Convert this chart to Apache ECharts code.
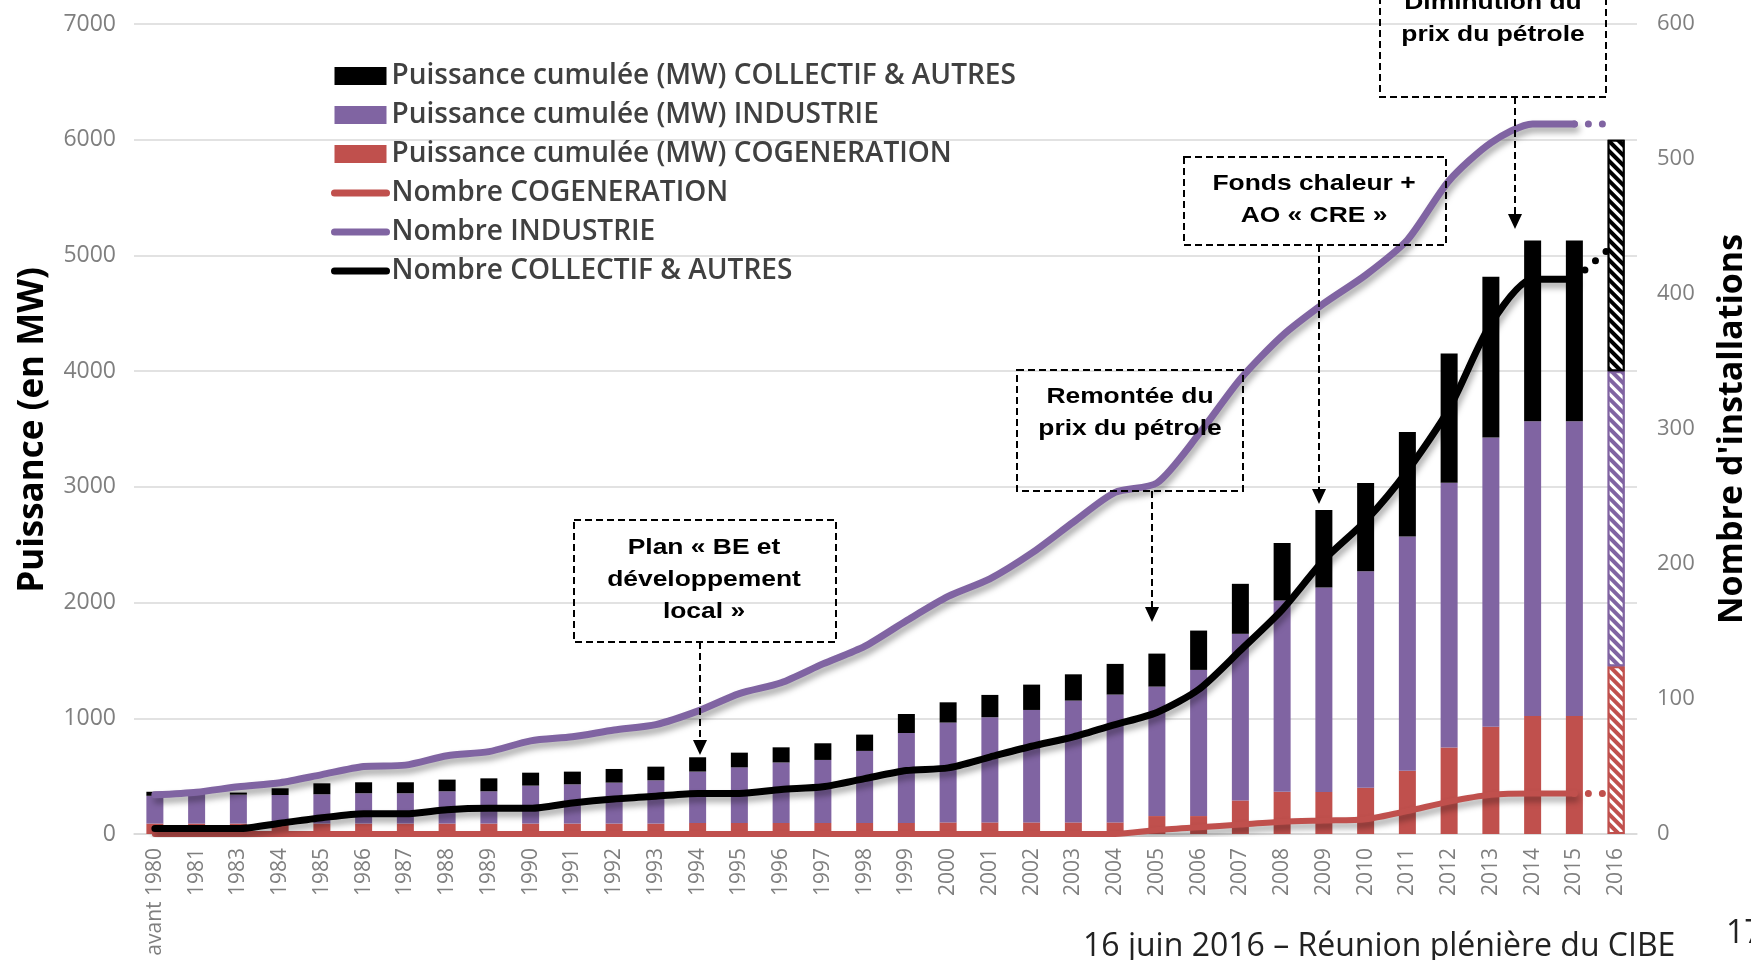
<!DOCTYPE html>
<html>
<head>
<meta charset="utf-8">
<script src="https://cdn.jsdelivr.net/npm/echarts@6/dist/echarts.min.js"></script>
<style>
html,body{margin:0;padding:0;background:#fff;}
#chart{width:1751px;height:960px;}
</style>
</head>
<body>
<div id="chart"></div>
<script>
// ---- Data ----
var categories = ['avant 1980','1981','1983','1984','1985','1986','1987','1988','1989','1990','1991','1992','1993','1994','1995','1996','1997','1998','1999','2000','2001','2002','2003','2004','2005','2006','2007','2008','2009','2010','2011','2012','2013','2014','2015','2016'];

// Puissance cumulée (MW), stacked bars
var mwCogeneration = [90,90,90,90,90,90,90,90,90,90,90,90,90,95,95,95,95,95,95,100,100,100,100,100,155,155,290,365,363,400,547,748,926,1020,1020,1450];
var mwIndustrie = [240,260,250,247,253,262,262,279,279,328,339,354,374,444,481,523,545,623,778,863,909,972,1053,1105,1119,1263,1440,1652,1767,1870,2025,2287,2501,2546,2546,2550];
var mwCollectif = [35,15,18,58,95,95,95,101,112,112,110,118,118,124,127,131,144,141,164,175,193,219,227,265,285,340,432,498,670,764,903,1117,1388,1564,1564,2000];

// Nombre d'installations (right axis)
var nbCogeneration = [0,0,0,0,0,0,0,0,0,0,0,0,0,0,0,0,0,0,0,0,0,0,0,0,3,5,7,9,10,11,17,24,29,30,30,null];
var nbIndustrie = [29,31,35,38,44,50,51,58,61,69,72,77,81,91,104,112,126,139,158,176,189,208,231,253,260,296,337,369,393,414,440,484,512,526,526,null];
var nbCollectif = [4,4,4,8,12,15,15,18,19,19,23,26,28,30,30,33,35,41,47,49,57,65,72,81,90,107,136,166,203,232,269,315,378,411,411,null];

// dotted continuation 2015 -> 2016
var nbCogenerationProj = [null,null,null,null,null,null,null,null,null,null,null,null,null,null,null,null,null,null,null,null,null,null,null,null,null,null,null,null,null,null,null,null,null,null,30,30];
var nbIndustrieProj = [null,null,null,null,null,null,null,null,null,null,null,null,null,null,null,null,null,null,null,null,null,null,null,null,null,null,null,null,null,null,null,null,null,null,526,526];
var nbCollectifProj = [null,null,null,null,null,null,null,null,null,null,null,null,null,null,null,null,null,null,null,null,null,null,null,null,null,null,null,null,null,null,null,null,null,null,411,438];

var leftTicks = {min:0, max:7000, interval:1000};
var rightTicks = {min:0, max:600, interval:100};

// ---- Styles ----
var RED = '#c0504d', PURPLE = '#8064a2', BLACK = '#000000';
var lastIdx = categories.length - 1;

function hatched(arr, color) {
  return arr.map(function (v, i) {
    if (i !== lastIdx) return v;
    return {
      value: v,
      itemStyle: {
        color: color,
        borderColor: color,
        borderWidth: 2,
        decal: {
          symbol: 'rect',
          symbolSize: 1,
          dashArrayX: [1, 0],
          dashArrayY: [3, 4],
          rotation: Math.PI / 4,
          color: '#ffffff'
        }
      }
    };
  });
}

var shadow = {shadowColor:'rgba(0,0,0,0.35)', shadowBlur:6, shadowOffsetX:2, shadowOffsetY:5};
function lineSeries(name, data, color, width) {
  return {
    name: name, type: 'line', yAxisIndex: 1, data: data,
    symbol: 'none', smooth: 0.25, z: 5,
    lineStyle: Object.assign({color: color, width: width, cap: 'round', join: 'round'}, shadow),
    itemStyle: {color: color}
  };
}
function dotSeries(data, color) {
  return {
    type: 'line', yAxisIndex: 1, data: data, symbol: 'none', z: 5, silent: true,
    lineStyle: {color: color, width: 7, type: [0, 14], cap: 'round'}
  };
}

var FONT = "'Open Sans', 'Noto Sans', sans-serif";
var ANN_FONT = "bold 22px 'Liberation Sans', Arial, sans-serif";

function dashedBox(x, y, w, h) {
  return {type:'rect', shape:{x:x, y:y, width:w, height:h}, z: 20,
    style:{fill:null, stroke:'#000', lineWidth:2, lineDash:[7,4]}};
}
function annText(x, y, txt) {
  return {type:'text', x:x, y:y, scaleX:1.2, z: 21,
    style:{text:txt, font:ANN_FONT, fill:'#000', align:'center', verticalAlign:'middle', lineHeight:32}};
}
function arrow(x, y1, y2) {
  return [
    {type:'line', z: 20, shape:{x1:x, y1:y1, x2:x, y2:y2-13}, style:{stroke:'#000', lineWidth:2, lineDash:[7,4]}},
    {type:'polygon', z: 20, shape:{points:[[x-7, y2-15],[x+7, y2-15],[x, y2]]}, style:{fill:'#000'}}
  ];
}

var graphics = [];
// Plan BE
graphics.push(dashedBox(574, 520, 262, 122));
graphics.push(annText(704, 580, 'Plan « BE et\ndéveloppement\nlocal »'));
graphics = graphics.concat(arrow(700, 642, 755));
// Remontée
graphics.push(dashedBox(1017, 370, 226, 121));
graphics.push(annText(1130, 413, 'Remontée du\nprix du pétrole'));
graphics = graphics.concat(arrow(1152, 491, 622));
// Fonds chaleur
graphics.push(dashedBox(1184, 157, 262, 88));
graphics.push(annText(1314, 200, 'Fonds chaleur +\nAO « CRE »'));
graphics = graphics.concat(arrow(1319, 245, 504));
// Diminution
graphics.push(dashedBox(1380, -40, 226, 137));
graphics.push(annText(1493, 19, 'Diminution du\nprix du pétrole'));
graphics = graphics.concat(arrow(1515, 97, 229));
// axis titles
graphics.push({type:'text', x:33, y:430, rotation:Math.PI/2, z:10,
  style:{text:'Puissance (en MW)', font:"bold 35px " + FONT, fill:'#000', align:'center', verticalAlign:'middle'}});
graphics.push({type:'text', x:1732, y:429, rotation:Math.PI/2, z:10,
  style:{text:"Nombre d'installations", font:"bold 34px " + FONT, fill:'#000', align:'center', verticalAlign:'middle'}});
// footer
graphics.push({type:'text', x:1083, y:947, z:10,
  style:{text:'16 juin 2016 – Réunion plénière du CIBE', font:"32px " + FONT, fill:'#222', align:'left', verticalAlign:'middle'}});
graphics.push({type:'text', x:1726, y:934, z:10,
  style:{text:'17', font:"32px " + FONT, fill:'#222', align:'left', verticalAlign:'middle'}});

var legendLine = {width: 7, cap: 'round', shadowBlur: 0, shadowOffsetX: 0, shadowOffsetY: 0};
var hideSymbol = {opacity: 0};
var chart = echarts.init(document.getElementById('chart'), null, {renderer:'canvas'});
chart.setOption({
  animation: false,
  backgroundColor: '#ffffff',
  textStyle: {fontFamily: FONT},
  grid: {left:134, right:114, top:24, bottom:126, containLabel:false},
  legend: {
    orient: 'vertical', left: 326, top: 57,
    itemWidth: 52, itemHeight: 18, itemGap: 11,
    textStyle: {fontSize: 28, fontWeight: 600, color: '#404040', fontFamily: FONT},
    data: [
      {name:'Puissance cumulée (MW) COLLECTIF & AUTRES', icon:'rect'},
      {name:'Puissance cumulée (MW) INDUSTRIE', icon:'rect'},
      {name:'Puissance cumulée (MW) COGENERATION', icon:'rect'},
      {name:'Nombre COGENERATION', itemStyle: hideSymbol, lineStyle: legendLine},
      {name:'Nombre INDUSTRIE', itemStyle: hideSymbol, lineStyle: legendLine},
      {name:'Nombre COLLECTIF & AUTRES', itemStyle: hideSymbol, lineStyle: legendLine}
    ]
  },
  xAxis: {
    type: 'category', data: categories, boundaryGap: true,
    axisLine: {show:true, lineStyle:{color:'#d9d9d9', width:1.5}},
    axisTick: {show:false},
    axisLabel: {interval:0, rotate:90, fontSize:21, color:'#7f7f7f', margin:14, fontFamily: FONT}
  },
  yAxis: [
    {type:'value', min:leftTicks.min, max:leftTicks.max, interval:leftTicks.interval,
     axisLine:{show:false}, axisTick:{show:false},
     axisLabel:{fontSize:23, color:'#7f7f7f', margin:18, fontFamily: FONT, formatter: function (v) { return String(v); }},
     splitLine:{show:true, lineStyle:{color:'#d9d9d9', width:1.5}}},
    {type:'value', min:rightTicks.min, max:rightTicks.max, interval:rightTicks.interval,
     axisLine:{show:false}, axisTick:{show:false},
     axisLabel:{fontSize:22, color:'#7f7f7f', margin:20, fontFamily: FONT, formatter: function (v) { return String(v); }},
     splitLine:{show:false}}
  ],
  series: [
    {name:'Puissance cumulée (MW) COGENERATION', type:'bar', stack:'mw', barWidth:17,
     itemStyle:{color:RED}, data: hatched(mwCogeneration, RED)},
    {name:'Puissance cumulée (MW) INDUSTRIE', type:'bar', stack:'mw', barWidth:17,
     itemStyle:{color:PURPLE}, data: hatched(mwIndustrie, PURPLE)},
    {name:'Puissance cumulée (MW) COLLECTIF & AUTRES', type:'bar', stack:'mw', barWidth:17,
     itemStyle:{color:BLACK}, data: hatched(mwCollectif, BLACK)},
    lineSeries('Nombre COGENERATION', nbCogeneration, RED, 6),
    lineSeries('Nombre INDUSTRIE', nbIndustrie, PURPLE, 7),
    lineSeries('Nombre COLLECTIF & AUTRES', nbCollectif, BLACK, 7),
    dotSeries(nbCogenerationProj, RED),
    dotSeries(nbIndustrieProj, PURPLE),
    dotSeries(nbCollectifProj, BLACK)
  ],
  graphic: graphics
});
</script>
</body>
</html>
